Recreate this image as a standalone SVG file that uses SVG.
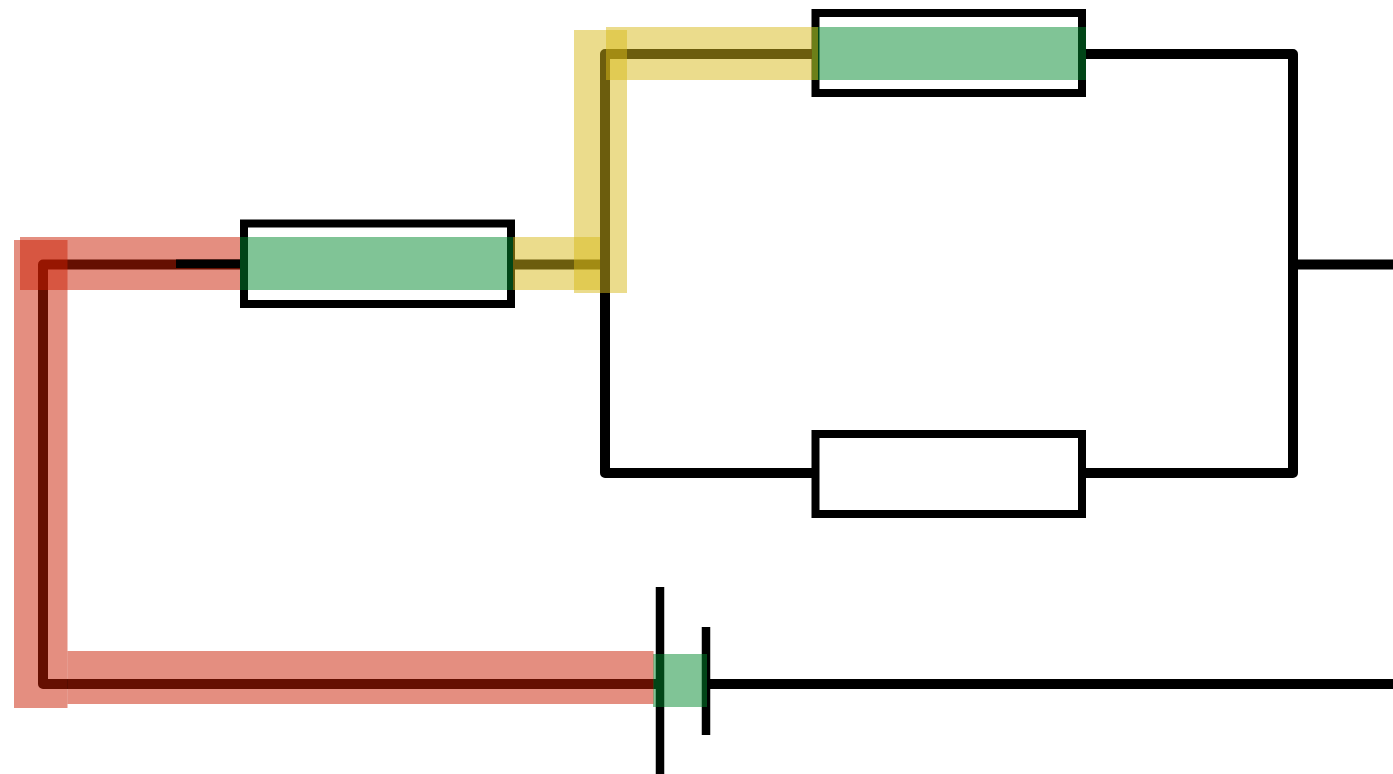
<svg xmlns="http://www.w3.org/2000/svg" width="1393" height="774" viewBox="0 0 1393 774">
<style>
.w{fill:none;stroke:#000;stroke-width:10;stroke-linejoin:round}
.b{fill:#fff;stroke:#000;stroke-width:8}
.r{fill:#c91d01;fill-opacity:.5}
.y{fill:#d7b919;fill-opacity:.5}
.g{fill:#01892d;fill-opacity:.5}
</style>
<rect width="1393" height="774" fill="#fff"/>
<g id="connectors">
<path class="w" d="M244 264.500H43V684H660"/>
<path class="w" d="M511 264.500H605M815.500 54H605V473H815.500"/>
<path class="w" d="M1082 54H1293V473H1082M1293 264.500H1393"/>
<path class="w" d="M706 684H1393"/>
</g>
<g id="resistor-1"><rect class="b" x="244" y="223.500" width="267" height="80.500"/></g>
<g id="resistor-2"><rect class="b" x="815.500" y="13" width="266.500" height="80"/></g>
<g id="resistor-3"><rect class="b" x="815.500" y="434" width="266.500" height="80"/></g>
<g id="capacitor">
<path d="M660 587V774M706 627V735" fill="none" stroke="#000" stroke-width="8.500"/>
</g>
<g id="highlight-green">
<rect class="g" x="240" y="237" width="273" height="53"/>
<rect class="g" x="812" y="27" width="274" height="53"/>
<rect class="g" x="653" y="654" width="54" height="53"/>
</g>
<g id="highlight-red">
<rect class="r" x="20" y="237" width="220" height="53"/>
<rect class="r" x="14" y="240" width="53.500" height="468"/>
<rect class="r" x="67.500" y="651" width="586" height="53"/>
</g>
<g id="highlight-yellow">
<rect class="y" x="513" y="237" width="87" height="53"/>
<rect class="y" x="574" y="30" width="53" height="263"/>
<rect class="y" x="606" y="27" width="212" height="53"/>
</g>
<path d="M176 263.750H240" fill="none" stroke="#000" stroke-width="8.500"/>
</svg>
